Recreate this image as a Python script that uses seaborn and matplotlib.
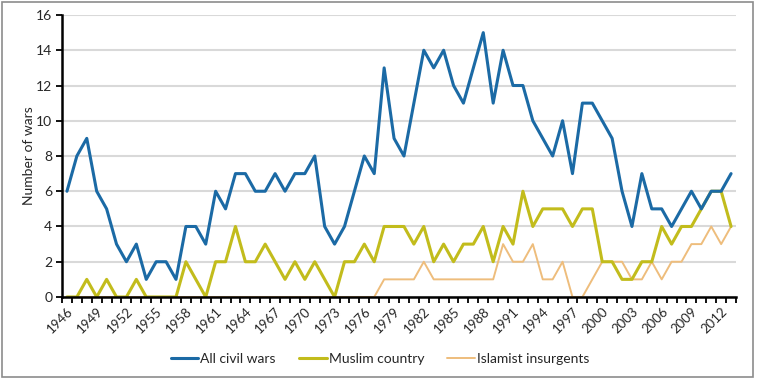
import numpy as np
import pandas as pd
import matplotlib
matplotlib.use('Agg')
import matplotlib.pyplot as plt
from matplotlib.patches import Rectangle
import seaborn as sns

years = list(range(1946, 2014))

all_civil_wars = [6, 8, 9, 6, 5, 3, 2, 3, 1, 2, 2, 1, 4, 4, 3, 6, 5, 7, 7, 6,
                  6, 7, 6, 7, 7, 8, 4, 3, 4, 6, 8, 7, 13, 9, 8, 11, 14, 13, 14, 12,
                  11, 13, 15, 11, 14, 12, 12, 10, 9, 8, 10, 7, 11, 11, 10, 9, 6, 4, 7, 5,
                  5, 4, 5, 6, 5, 6, 6, 7]
muslim_country = [0, 0, 1, 0, 1, 0, 0, 1, 0, 0, 0, 0, 2, 1, 0, 2, 2, 4, 2, 2,
                  3, 2, 1, 2, 1, 2, 1, 0, 2, 2, 3, 2, 4, 4, 4, 3, 4, 2, 3, 2,
                  3, 3, 4, 2, 4, 3, 6, 4, 5, 5, 5, 4, 5, 5, 2, 2, 1, 1, 2, 2,
                  4, 3, 4, 4, 5, 6, 6, 4]
islamist_insurgents = [0, 0, 0, 0, 0, 0, 0, 0, 0, 0, 0, 0, 0, 0, 0, 0, 0, 0, 0, 0,
                       0, 0, 0, 0, 0, 0, 0, 0, 0, 0, 0, 0, 1, 1, 1, 1, 2, 1, 1, 1,
                       1, 1, 1, 1, 3, 2, 2, 3, 1, 1, 2, 0, 0, 1, 2, 2, 2, 1, 1, 2,
                       1, 2, 2, 3, 3, 4, 3, 4]

series_names = ['All civil wars', 'Muslim country', 'Islamist insurgents']
colors = ['#1b6aa5', '#c2bc1c', '#eebd7c']
widths = [2.2, 2.2, 1.4]

df = pd.DataFrame({'year': years,
                   'All civil wars': all_civil_wars,
                   'Muslim country': muslim_country,
                   'Islamist insurgents': islamist_insurgents})
long_df = df.melt(id_vars='year', var_name='series', value_name='wars')

sns.set_style('white')
plt.rcParams['font.family'] = ['Lato', 'DejaVu Sans']

fig = plt.figure(figsize=(7.57, 3.79), dpi=100)
ax = fig.add_axes([0.0819, 0.2164, 0.8904, 0.744])

# draw back to front so the blue line sits on top
for name, c, lw in reversed(list(zip(series_names, colors, widths))):
    sns.lineplot(data=long_df[long_df['series'] == name], x='year', y='wars',
                 color=c, linewidth=lw, ax=ax, label=name, legend=False)

ax.set_xlim(years[0] - 0.5, years[-1] + 0.5)
ax.set_ylim(0, 16)
ax.set_yticks(range(0, 17, 2))
ax.yaxis.grid(True, color='#d9d9d9', linewidth=1.5)
ax.set_axisbelow(True)

# ticks on category boundaries, labels every third year
ax.set_xticks(np.arange(years[0] - 0.5, years[-1] + 1, 1))
ax.set_xticklabels([])
ax.set_xticks(years[::3], minor=True)
ax.set_xticklabels([str(y) for y in years[::3]], minor=True, rotation=45,
                   ha='right', rotation_mode='anchor', fontsize=9.5)
ax.tick_params(axis='x', which='major', direction='out', length=4, width=1.3, color='black', bottom=True)
ax.tick_params(axis='x', which='minor', length=0, pad=6)
ax.tick_params(axis='y', direction='out', length=4, width=1.3, color='black', left=True, labelsize=10, pad=3)

for side in ['top', 'right']:
    ax.spines[side].set_visible(False)
for side in ['left', 'bottom']:
    ax.spines[side].set_color('black')
    ax.spines[side].set_linewidth(1.8)

ax.set_xlabel('')
ax.set_ylabel('Number of wars', fontsize=10, labelpad=1)

handles, labels = ax.get_legend_handles_labels()
order = [labels.index(n) for n in series_names]
fig.legend([handles[i] for i in order], [labels[i] for i in order],
           loc='center', bbox_to_anchor=(0.502, 0.053), ncol=3, frameon=False,
           fontsize=10, handlelength=2.0, handletextpad=0.15, columnspacing=1.65)

fig.patches.append(Rectangle((0.002, 0.004), 0.993, 0.992, transform=fig.transFigure,
                             fill=False, edgecolor='#8c8c8c', linewidth=1.2))

fig.savefig('out.png', dpi=100)
